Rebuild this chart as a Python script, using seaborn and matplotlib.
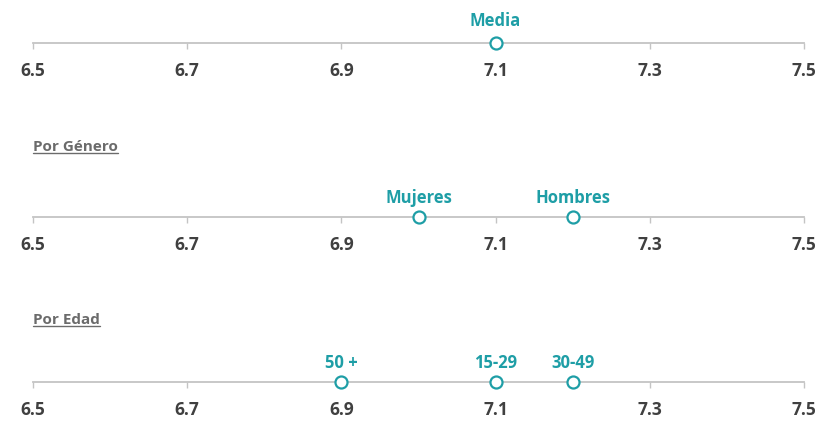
import matplotlib
matplotlib.use("Agg")
import matplotlib.pyplot as plt
import seaborn as sns
import pandas as pd
from matplotlib.lines import Line2D

sns.set_theme(style="white")
plt.rcParams['font.family'] = ['Open Sans', 'DejaVu Sans']

# Data
media_labels = ["Media"]
media_values = [7.1]
genero_labels = ["Mujeres", "Hombres"]
genero_values = [7.0, 7.2]
edad_labels = ["50 +", "15-29", "30-49"]
edad_values = [6.9, 7.1, 7.2]
tick_values = [6.5, 6.7, 6.9, 7.1, 7.3, 7.5]
tick_labels = ["6.5", "6.7", "6.9", "7.1", "7.3", "7.5"]
section_titles = ["Por Género", "Por Edad"]

TEAL = "#1e9ea6"
GRAY_LINE = "#c4c4c4"
TICK_TXT = "#404040"
TITLE_TXT = "#6b6b6b"

W, H = 822, 421
fig = plt.figure(figsize=(W / 100, H / 100), dpi=100)

x0 = 33 / W
x1 = 804 / W
line_y_px = [43, 217, 382]
label_offsets = [9, 7, 7]
groups = [(media_labels, media_values), (genero_labels, genero_values), (edad_labels, edad_values)]

for (labels, values), ypx, off in zip(groups, line_y_px, label_offsets):
    bottom = 1 - ypx / H
    ax = fig.add_axes([x0, bottom, x1 - x0, 0.06])
    df = pd.DataFrame({"x": values, "y": [0] * len(values), "label": labels})
    sns.scatterplot(data=df, x="x", y="y", ax=ax, marker="o", s=75,
                    facecolor="white", edgecolor=TEAL, linewidth=1.6,
                    clip_on=False, zorder=5, legend=False)
    for _, r in df.iterrows():
        ax.annotate(r["label"], (r["x"], 0), xytext=(0, off), textcoords="offset points",
                    ha="center", va="bottom", color=TEAL, fontsize=12,
                    fontweight="bold", annotation_clip=False)
    ax.set_xlim(6.5, 7.5)
    ax.set_ylim(0, 1)
    ax.set_xticks(tick_values)
    ax.set_xticklabels(tick_labels)
    ax.set_yticks([])
    ax.set_xlabel("")
    ax.set_ylabel("")
    for s in ["left", "right", "top"]:
        ax.spines[s].set_visible(False)
    ax.spines["bottom"].set_color(GRAY_LINE)
    ax.spines["bottom"].set_linewidth(1.3)
    ax.tick_params(axis="x", bottom=True, length=4, width=1.0, color=GRAY_LINE,
                   pad=10, labelsize=12.5, labelcolor=TICK_TXT)
    for t in ax.get_xticklabels():
        t.set_fontweight("bold")
    ax.patch.set_alpha(0)

# Section titles with underline
title_y_px = [147, 320]
texts = []
for title, ypx in zip(section_titles, title_y_px):
    t = fig.text(x0, 1 - ypx / H, title, ha="left", va="center", fontsize=11,
                 fontweight="bold", color=TITLE_TXT)
    texts.append(t)

fig.canvas.draw()
renderer = fig.canvas.get_renderer()
for t in texts:
    bb = t.get_window_extent(renderer).transformed(fig.transFigure.inverted())
    yl = bb.y0 + 0.002
    fig.add_artist(Line2D([bb.x0, bb.x1], [yl, yl], transform=fig.transFigure,
                          color=TITLE_TXT, linewidth=1.0))

fig.savefig("out.png", dpi=100)
